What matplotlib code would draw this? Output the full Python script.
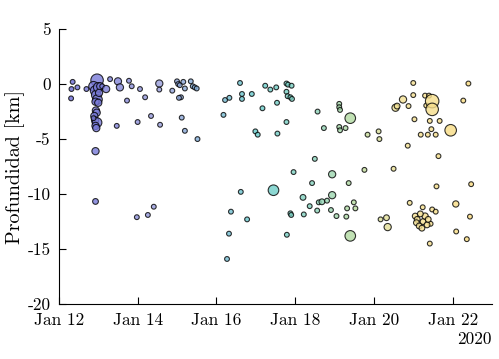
import numpy as np
import pandas as pd
import matplotlib
matplotlib.use("Agg")
import matplotlib.pyplot as plt
import matplotlib.dates as mdates
from matplotlib.colors import LinearSegmentedColormap

plt.rcParams['font.family'] = ['cmr10', 'DejaVu Serif']
plt.rcParams['axes.unicode_minus'] = False
plt.rcParams['mathtext.fontset'] = 'cm'

# tiempo (dias desde 2020-01-12), profundidad (km), magnitud
dias = [0.31, 0.35, 0.32, 0.47, 0.70,
        0.97, 0.88, 0.92, 0.95, 1.00, 1.05, 0.98, 0.93, 1.00, 1.02, 1.10, 1.20,
        0.94, 0.96, 0.90, 0.92, 0.97, 0.93, 0.95, 0.88, 0.93, 0.93,
        1.30, 1.47, 1.50, 1.55, 1.73, 1.78, 1.85, 2.00, 2.06, 2.19, 2.34, 2.55,
        2.55, 2.57, 1.98, 2.26, 2.41,
        2.88, 3.00, 3.03, 3.07, 3.10, 3.05, 3.16, 3.20, 3.12, 3.20, 3.35, 3.40,
        3.45, 3.50, 3.52,
        4.18, 4.22, 4.33, 4.27, 4.32, 4.37, 4.60, 4.65, 4.65, 4.62, 4.78, 4.90,
        4.99, 5.05, 5.17, 5.24, 5.37, 5.45, 5.52, 5.54, 5.55, 5.78, 5.82, 5.91,
        5.78, 5.81, 5.88, 5.92, 5.78, 5.79, 5.88, 5.90, 5.96,
        6.20, 6.22, 6.37, 6.43, 6.50, 6.57, 6.56, 6.60, 6.68, 6.73, 6.81, 6.91,
        6.94, 6.94, 7.05, 7.12, 7.12, 7.14, 7.12, 7.14, 7.28, 7.30, 7.32, 7.36,
        7.40, 7.40, 7.49, 7.53, 7.76, 7.84,
        8.12, 8.14, 8.17, 8.32, 8.35, 8.50, 8.55, 8.59, 8.74, 8.86, 8.88, 8.91,
        9.00, 9.00, 9.03, 9.19, 9.24, 9.30, 9.40, 9.33, 9.37, 9.42, 9.46, 9.48,
        9.48, 9.57, 9.67, 9.48, 9.57, 9.44, 9.42, 9.59, 9.64, 9.95, 10.08, 10.09,
        10.27, 10.36, 10.40, 10.44, 10.47,
        9.05, 9.10, 9.08, 9.15, 9.22, 9.25, 9.30, 9.18, 9.35, 9.38]

profundidad = [-1.3, 0.2, -0.45, -0.3, -0.45,
               0.35, -0.2, -0.6, -1.0, -0.3, -0.2, -1.4, -1.6, -1.7, -0.8, -0.2, -0.45,
               -2.4, -2.6, -2.9, -3.3, -3.5, -3.8, -4.0, -3.1, -6.1, -10.67,
               0.45, -3.8, 0.25, -0.3, -1.5, 0.3, -0.2, -3.45, -0.45, -1.2, -2.9, 0.05,
               -0.5, -3.7, -12.1, -11.9, -11.15,
               -0.6, 0.25, 0.0, -0.1, -1.2, -1.25, 0.2, -0.4, -3.05, -4.25, 0.25, -0.2,
               -0.3, -0.4, -5.0,
               -2.8, -1.45, -1.25, -15.9, -13.6, -11.6, 0.1, -0.9, -1.35, -9.8, -12.3, -0.9,
               -4.3, -4.6, -2.2, -0.15, -0.5, -9.65, -0.3, -1.7, -4.5, 0.05, -0.05, -0.15,
               -0.7, -1.1, -1.2, -1.35, -3.45, -13.7, -11.75, -11.9, -8.0,
               -10.3, -11.85, -11.1, -9.0, -6.8, -2.5, -11.5, -10.75, -10.7, -4.0, -10.6, -11.45,
               -8.2, -10.1, -12.0, -1.8, -2.1, -2.35, -3.9, -4.2, -4.0, -12.05, -11.3, -9.0,
               -3.1, -13.8, -10.75, -11.3, -7.8, -4.6,
               -4.3, -5.0, -12.3, -12.15, -13.0, -7.7, -2.15, -2.0, -1.4, -5.6, -2.0, -10.8,
               0.1, -1.0, -3.2, -4.6, -11.2, -1.05, -1.05, -1.95, -4.6, -3.35, -4.1, -1.55,
               -2.3, -4.6, -3.35, -11.4, -11.6, -12.7, -14.5, -9.3, -6.55, -4.2, -10.9, -13.4,
               -1.5, -14.1, 0.05, -12.05, -9.1,
               -12.0, -12.3, -12.6, -12.9, -13.1, -12.5, -12.0, -11.8, -12.8, -12.3]

magnitud = [1, 1, 1, 1, 1,
            2.6, 2, 2, 2, 2, 1.5, 2, 1.5, 1.5, 1.5, 1, 1.5,
            1.5, 1.5, 1.5, 1.5, 2, 1.5, 1.5, 1, 1.5, 1.2,
            1, 1, 1.5, 1.5, 1, 1, 1, 1, 1, 1, 1, 1.5,
            1, 1, 1, 1, 1,
            1, 1, 1, 1, 1, 1, 1, 1, 1, 1, 1, 1,
            1, 1, 1,
            1, 1, 1, 1, 1, 1, 1, 1, 1, 1, 1, 1,
            1, 1, 1, 1, 1, 2.2, 1, 1, 1, 1, 1, 1,
            1, 1, 1, 1, 1, 1, 1, 1, 1,
            1.2, 1, 1, 1, 1, 1, 1, 1, 1.2, 1, 1, 1,
            1.5, 1.5, 1, 1, 1, 1, 1, 1, 1, 1, 1, 1,
            2.2, 2.2, 1, 1, 1, 1,
            1, 1, 1, 1.2, 1.5, 1, 1.5, 1.2, 1.5, 1, 1, 1,
            1, 1, 1, 1, 1, 1, 1, 1, 1, 1, 1, 2.8,
            2.6, 1, 1, 1, 1, 1, 1, 1, 1, 2.4, 1.3, 1,
            1, 1, 1, 1, 1,
            1.2, 1.2, 1.2, 1.2, 1.2, 1.2, 1.3, 1.2, 1.2, 1.2]

inicio = pd.Timestamp("2020-01-12")
fechas = inicio + pd.to_timedelta(dias, unit="D")
tam = 12 * np.array(magnitud) ** 2

colores = [(0.0, (0.42, 0.42, 0.84)),
           (0.22, (0.60, 0.62, 0.86)),
           (0.32, (0.50, 0.68, 0.84)),
           (0.46, (0.40, 0.80, 0.80)),
           (0.60, (0.52, 0.82, 0.74)),
           (0.71, (0.72, 0.86, 0.62)),
           (0.82, (0.95, 0.88, 0.58)),
           (1.0, (0.98, 0.86, 0.50))]
cmap = LinearSegmentedColormap.from_list("prof", colores)

fig = plt.figure(figsize=(4.99, 3.59), dpi=100)
ax = fig.add_axes([0.118, 0.153, 0.868, 0.766])

ax.scatter(fechas, profundidad, s=tam, c=dias, cmap=cmap, vmin=0.3, vmax=10.5,
           edgecolors='black', linewidths=0.8, alpha=0.8, zorder=3)

ax.set_ylim(-20, 5)
ax.set_yticks([-20, -15, -10, -5, 0, 5])
ax.set_xlim(inicio, inicio + pd.Timedelta(days=11))
ax.set_ylabel("Profundidad [km]", fontsize=14.5, labelpad=2)

loc = mdates.DayLocator(bymonthday=[12, 14, 16, 18, 20, 22])
fmt = mdates.ConciseDateFormatter(loc)
fmt.formats = ['%Y', '%b', '%b %d', '%H:%M', '%H:%M', '%S.%f']
fmt.zero_formats = ['', '%Y', '%b %d', '%b-%d', '%H:%M', '%H:%M']
fmt.offset_formats = ['', '%Y', '%Y', '%Y', '%Y', '%Y']
ax.xaxis.set_major_locator(loc)
ax.xaxis.set_major_formatter(fmt)

ax.spines['top'].set_visible(False)
ax.spines['right'].set_visible(False)
ax.tick_params(direction='in', length=5, labelsize=12.5, pad=6)
ax.xaxis.get_offset_text().set_fontsize(12.5)

fig.savefig("out.png", dpi=100)
